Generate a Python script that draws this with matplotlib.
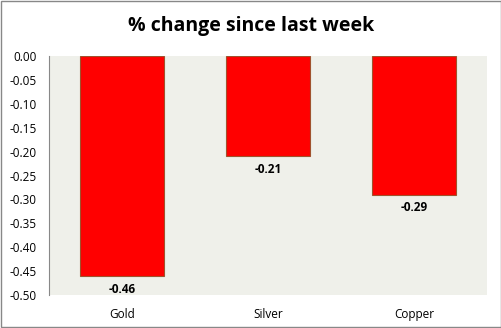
import matplotlib
matplotlib.use("Agg")
import matplotlib.pyplot as plt
import numpy as np

plt.rcParams['font.family'] = ['Open Sans', 'DejaVu Sans']

# data
metals = ["Gold", "Silver", "Copper"]
changes = [-0.46, -0.21, -0.29]
yticks = [0.00, -0.05, -0.10, -0.15, -0.20, -0.25, -0.30, -0.35, -0.40, -0.45, -0.50]

fig = plt.figure(figsize=(5.02, 3.28), dpi=100)
fig.patch.set_facecolor("white")
fig.patches.append(plt.Rectangle((0.001, 0.002), 0.997, 0.995, transform=fig.transFigure,
                                 fill=False, edgecolor="#888888", linewidth=1))

ax = fig.add_axes([0.0976, 0.1006, 0.8725, 0.7284])
ax.set_facecolor("#eff0ea")

x = np.arange(len(metals))
ax.bar(x, changes, width=0.57, color="#ff0000", edgecolor="#a0522d", linewidth=0.8)

# value labels under each bar
for xi, v in zip(x, changes):
    ax.text(xi, v - 0.014, "%.2f" % v, ha="center", va="top", fontsize=8.5, fontweight="bold")

ax.set_xlim(-0.5, len(metals) - 0.5)
ax.set_ylim(-0.5, 0.0)
ax.set_yticks(yticks)
ax.set_yticklabels(["%.2f" % t for t in yticks], fontsize=8.5)
ax.set_xticks(x)
ax.set_xticklabels(metals, fontsize=8.5)
ax.tick_params(length=0, pad=9)
ax.tick_params(axis="x", pad=9)

for s in ["top", "right", "bottom"]:
    ax.spines[s].set_visible(False)
ax.spines["left"].set_color("#888888")
ax.spines["left"].set_linewidth(0.8)

fig.text(0.5, 0.92, "% change since last week", ha="center", va="center",
         fontsize=14, fontweight="bold")

fig.savefig("out.png", dpi=100)
